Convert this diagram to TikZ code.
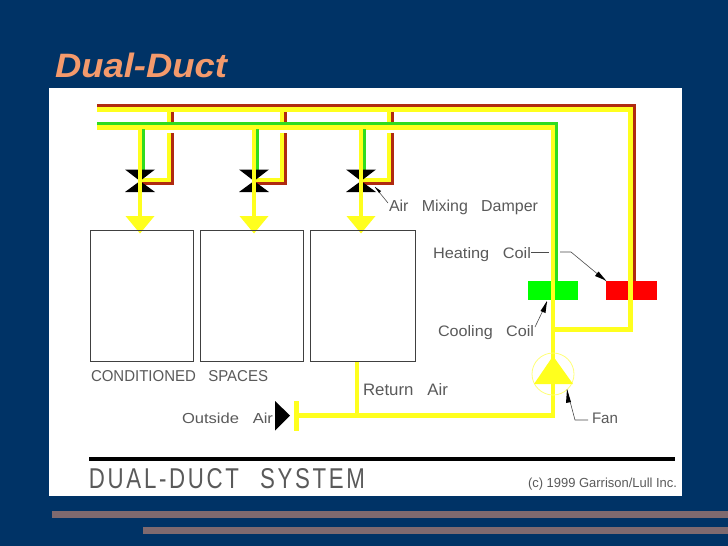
\documentclass[tikz,border=0pt]{standalone}
\usepackage{fontspec}
\usepackage{graphicx}
\setmainfont{Liberation Sans}
\definecolor{slidebg}{HTML}{003366}
\definecolor{titlec}{HTML}{F49A6C}
\definecolor{barc}{HTML}{7F6A6F}
\definecolor{ductY}{HTML}{FFFF1E}
\definecolor{ductR}{HTML}{B02A10}
\definecolor{ductG}{HTML}{30DC20}
\definecolor{cadtext}{HTML}{5A5A5A}
\newlength{\pxu}
\setlength{\pxu}{0.75pt}
\newcommand{\fitlabel}[6]{\node[lbl] (#1) at (#2,#3) {\resizebox{#4\pxu}{#5\pxu}{#6}};}
\newcommand{\wgap}{\hspace{0.55em}}
\tikzset{
  x=0.75pt,y=-0.75pt,
  lbl/.style={anchor=base west,inner sep=0pt,outer sep=0pt,text=cadtext,font=\fontsize{10}{12}\selectfont},
  yduct/.style={draw=ductY,line width=3.4pt,line cap=butt},
  rduct/.style={draw=ductR,line width=2.6pt,line cap=butt},
  gduct/.style={draw=ductG,line width=2.2pt,line cap=butt},
  spacebox/.style={draw=black!75,line width=0.6pt,anchor=north west,inner sep=0pt,minimum height=98.6pt},
  leader/.style={draw=black!70,line width=0.45pt},
}
\begin{document}
\begin{tikzpicture}
\useasboundingbox (0,0) rectangle (728,546);
\fill[slidebg] (0,0) rectangle (728,546);
\fill[white] (49,88) rectangle (682,496);
\fill[barc] (52,511) rectangle (728,518);
\fill[barc] (143,526.5) rectangle (728,533.5);
\node[lbl,text=titlec] (title) at (55,77.5) {\resizebox{172\pxu}{24.5\pxu}{\bfseries\itshape Dual-Duct}};

% coils (under the ducts)
\fill[green] (528,281) rectangle (578,300);
\fill[red] (606,281) rectangle (657,300);

% hot deck
\foreach \bx/\cx in {169/140,282/254,389/361}{
  \draw[rduct] (\bx+2.8,105) -- (\bx+2.8,122);
  \draw[rduct] (\bx+2.8,133) -- (\bx+2.8,183.7) -- (\cx,183.7);
  \draw[yduct] (\bx,109) -- (\bx,122);
  \draw[yduct] (\bx,133) -- (\bx,180) -- (\cx,180);
}
\draw[rduct] (97,105.5) -- (633.9,105.5) -- (633.9,281);
\draw[yduct] (97,109.3) -- (630.5,109.3) -- (630.5,329.5) -- (553,329.5);

% cold deck
\draw[gduct] (97,123.5) -- (556.5,123.5) -- (556.5,281);
\draw[yduct] (97,127.3) -- (553,127.3) -- (553,415.5) -- (296,415.5);

% terminal branches, dampers, arrowheads
\foreach \cx in {140,254,361}{
  \draw[gduct] (\cx+3.5,129) -- (\cx+3.5,172);
  \fill[black] (\cx-15,169.5) -- (\cx+15,169.5) -- (\cx,181) -- (\cx+15,192) -- (\cx-15,192) -- (\cx,181) -- cycle;
  \draw[yduct] (\cx,129) -- (\cx,218);
  \fill[ductY] (\cx-14.5,216) -- (\cx+14.5,216) -- (\cx,233.5) -- cycle;
}

% conditioned spaces
\node[spacebox,minimum width=76.9pt] (s1) at (90,230) {};
\node[spacebox,minimum width=76.9pt] (s2) at (200,230) {};
\node[spacebox,minimum width=78.4pt] (s3) at (310,230) {};

% return / outside air
\draw[yduct] (s3.south -| 357,0) -- (357,415.5);
\draw[yduct] (296.5,401) -- (296.5,430.5);
\fill[black] (275,401) -- (290,415.5) -- (275,430.5) -- cycle;

% fan
\draw[draw=ductY!60!white,line width=0.6pt] (553,374) circle (21);
\fill[ductY] (553,356) -- (573,384) -- (534,384) -- cycle;

% leaders
\coordinate (dampTip) at (375,187);
\coordinate (dampEnd) at (388,203);
\draw[leader] (dampEnd) -- (dampTip);
\fill[black] (375,187) -- (381,191) -- (379,193) -- cycle;
\coordinate (hcA) at (531,252);
\coordinate (hcB) at (549,252);
\coordinate (hcC) at (560,252);
\coordinate (hcD) at (571,252);
\coordinate (hcE) at (606,281);
\draw[leader] (hcA) -- (hcB);
\draw[leader] (hcC) -- (hcD) -- (hcE);
\fill[black] (606,280.5) -- (595,276) -- (598.5,271.5) -- cycle;
\coordinate (ccA) at (535,327);
\coordinate (ccB) at (547,302);
\draw[leader] (ccA) -- (ccB);
\fill[black] (547,301) -- (545.5,313) -- (540.5,311) -- cycle;
\coordinate (fnA) at (588,420);
\coordinate (fnB) at (575,420);
\coordinate (fnC) at (567,390);
\draw[leader] (fnA) -- (fnB) -- (fnC);
\fill[black] (567,389) -- (571,402) -- (566,403) -- cycle;

% labels
\fitlabel{lcond}{91}{381}{177}{11}{CONDITIONED\wgap{} SPACES}
\fitlabel{lret}{363}{395}{85}{12}{Return\wgap{} Air}
\fitlabel{lout}{182}{423}{91}{10.5}{Outside\wgap{} Air}
\fitlabel{lfan}{592}{423}{26}{10.5}{Fan}
\fitlabel{ldamp}{389}{211}{149}{11.5}{Air\wgap{} Mixing\wgap{} Damper}
\fitlabel{lheat}{433}{258}{98}{11}{Heating\wgap{} Coil}
\fitlabel{lcool}{438}{336}{96}{11}{Cooling\wgap{} Coil}

% title block
\draw[black,line width=3pt] (89,458.5) -- (675,458.5);
\fitlabel{lsys}{89}{488}{276}{20}{\addfontfeature{LetterSpace=12}DUAL-DUCT\wgap{} SYSTEM}
\fitlabel{lcopy}{528}{487}{149}{9.5}{(c) 1999 Garrison/Lull Inc.}
\end{tikzpicture}
\end{document}
